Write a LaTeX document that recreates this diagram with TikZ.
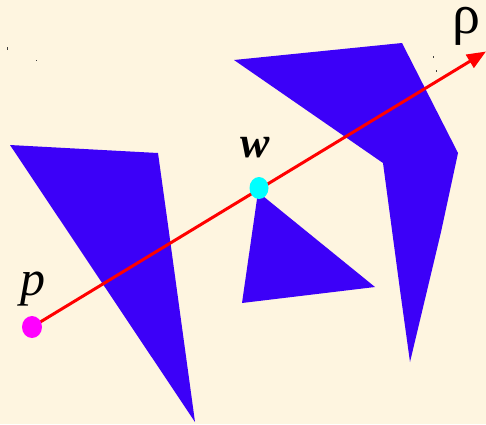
\documentclass[tikz,border=0pt]{standalone}
\usepackage{fontspec}
\setmainfont{Liberation Serif}
\usetikzlibrary{arrows.meta,shapes.geometric}
\definecolor{bgcream}{RGB}{254,245,224}
\definecolor{polyblue}{RGB}{60,0,248}
\definecolor{rayred}{RGB}{255,0,0}
\definecolor{ptmag}{RGB}{255,0,255}
\definecolor{ptcyan}{RGB}{0,255,255}
\begin{document}
\begin{tikzpicture}[x=1pt,y=-1pt,
  poly/.style={fill=polyblue,draw=none},
  ray/.style={draw=rayred,line width=3pt,-{Triangle[length=19pt,width=15pt]}},
  dot/.style={ellipse,inner sep=0pt,minimum width=20pt,minimum height=22pt,draw=none},
  lbl/.style={inner sep=0pt,font=\fontsize{44}{44}\selectfont\itshape},
  speck/.style={fill=black!75,draw=none}]
\fill[bgcream] (0,0) rectangle (486,424);
\useasboundingbox (0,0) rectangle (486,424);
% obstacles
\fill[poly] (10,145) -- (158,153) -- (168,225) -- (181,320) -- (195,422) -- cycle;
\fill[poly] (258,192) -- (375,287) -- (242,303) -- cycle;
\fill[poly] (234,60) -- (402,43) -- (458,153) -- (441,232) -- (410,362) -- (400,290) -- (383,163) -- cycle;
% specks
\fill[speck] (6.5,46.5) rectangle (8,49.5);
\fill[speck] (35.5,59.5) rectangle (37,61);
\fill[speck] (432.5,56) rectangle (434,58);
\fill[speck] (435.5,70) rectangle (437,72);
% ray
\coordinate (P) at (32,327);
\coordinate (W) at (259,188);
\coordinate (R) at (486,51.5);
\draw[ray] (P) -- (R);
\node[dot,fill=ptmag] (pdot) at (P) {};
\node[dot,fill=ptcyan,minimum width=19pt] (wdot) at (W) {};
% labels
\node[lbl,font=\fontsize{50}{50}\selectfont\itshape] (plbl) at (33,289) {p};
\node[lbl,font=\fontsize{44}{44}\selectfont\bfseries\itshape] (wlbl) at (255,148) {w};
\node[inner sep=0pt,anchor=south,font=\fontsize{56}{56}\selectfont] (rholbl) at (466,46) {ρ};
\end{tikzpicture}
\end{document}
